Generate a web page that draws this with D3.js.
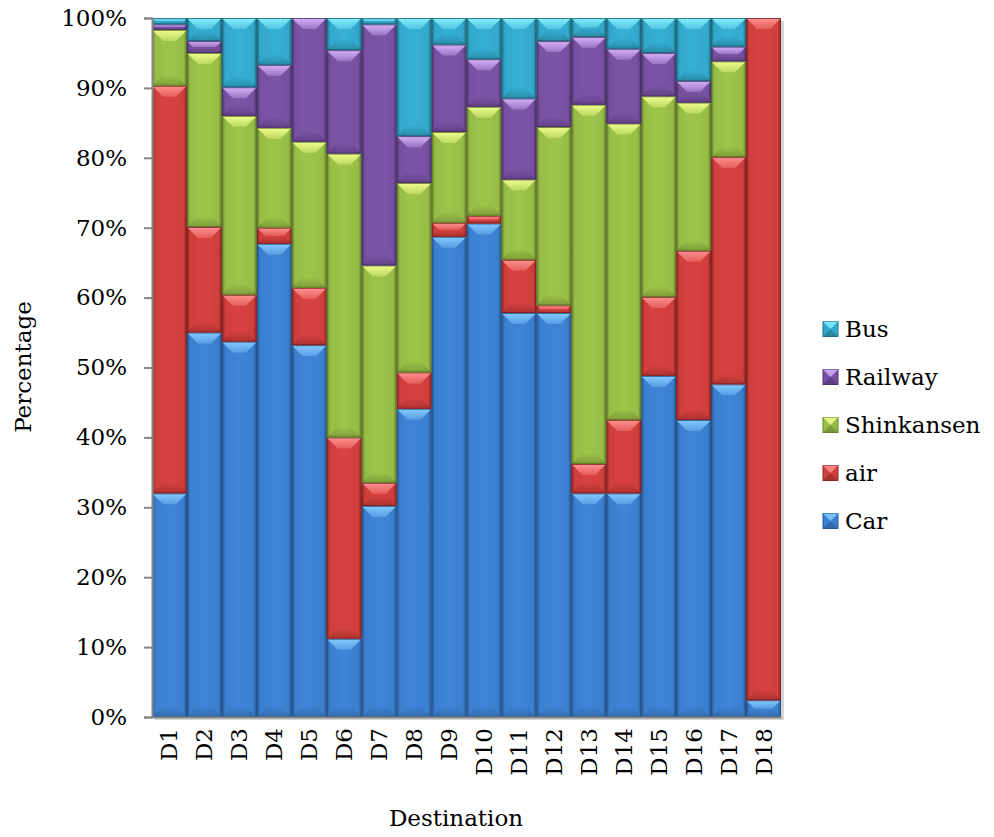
<!DOCTYPE html>
<html>
<head>
<meta charset="utf-8">
<script src="https://cdn.jsdelivr.net/npm/d3@7"></script>
<style>
  body { margin: 0; background: #fff; }
  text { font-family: "DejaVu Serif", serif; fill: #000; }
</style>
</head>
<body>
<svg id="chart" width="994" height="837"></svg>
<script>
// Modal share (%) per destination
const destinations = ["D1","D2","D3","D4","D5","D6","D7","D8","D9","D10","D11","D12","D13","D14","D15","D16","D17","D18"];
const car        = [32.0, 55.0, 53.7, 67.7, 53.2, 11.2, 30.2, 44.1, 68.7, 70.6, 57.8, 57.8, 32.0, 32.0, 48.8, 42.5, 47.6, 2.4];
const air        = [58.3, 15.1,  6.7,  2.3,  8.2, 28.8,  3.3,  5.2,  2.0,  1.1,  7.6,  1.1,  4.2, 10.5, 11.3, 24.2, 32.5, 97.6];
const shinkansen = [ 8.0, 24.9, 25.6, 14.3, 20.9, 40.6, 31.1, 27.1, 13.0, 15.6, 11.5, 25.5, 51.4, 42.4, 28.7, 21.2, 13.7, 0];
const railway    = [ 0.8,  1.7,  4.1,  9.0, 17.7, 14.8, 34.5,  6.7, 12.5,  6.8, 11.6, 12.3,  9.7, 10.7,  6.2,  3.1,  2.1, 0];
const bus        = [ 0.9,  3.3,  9.9,  6.7,  0.0,  4.6,  0.9, 16.9,  3.8,  5.9, 11.5,  3.3,  2.7,  4.4,  5.0,  9.0,  4.1, 0];
const seriesNames = ["Car", "air", "Shinkansen", "Railway", "Bus"];
const yTickValues = [0, 0.1, 0.2, 0.3, 0.4, 0.5, 0.6, 0.7, 0.8, 0.9, 1.0];

const palette = {
  Car:        { base: "#3b7fcf", light: "#86ccff", dark: "#265a97" },
  air:        { base: "#cf3f3d", light: "#ff9290", dark: "#8f2625" },
  Shinkansen: { base: "#97bd47", light: "#f2ff8e", dark: "#66822b" },
  Railway:    { base: "#7751a1", light: "#d6b2fa", dark: "#4f3470" },
  Bus:        { base: "#33a9cc", light: "#86f0ff", dark: "#1f7189" }
};

const rows = destinations.map((d, i) => ({
  dest: d, Car: car[i], air: air[i], Shinkansen: shinkansen[i], Railway: railway[i], Bus: bus[i]
}));

const svg = d3.select("#chart");
const plot = { left: 152, right: 781, top: 18, bottom: 717 };

const x = d3.scaleBand().domain(destinations).range([plot.left, plot.right]).padding(0);
const y = d3.scaleLinear().domain([0, 1]).range([plot.bottom, plot.top]);

const stacked = d3.stack().keys(seriesNames).offset(d3.stackOffsetExpand)(rows);

// Gradients: horizontal body shading, top highlight, bottom shade
const defs = svg.append("defs");
seriesNames.forEach(k => {
  const c = palette[k];
  const h = defs.append("linearGradient").attr("id", "body-" + k)
    .attr("x1", 0).attr("x2", 1).attr("y1", 0).attr("y2", 0);
  h.append("stop").attr("offset", "0%").attr("stop-color", c.dark);
  h.append("stop").attr("offset", "10%").attr("stop-color", c.base);
  h.append("stop").attr("offset", "50%").attr("stop-color", d3.color(c.base).brighter(0.12));
  h.append("stop").attr("offset", "90%").attr("stop-color", c.base);
  h.append("stop").attr("offset", "100%").attr("stop-color", c.dark);

  const t = defs.append("linearGradient").attr("id", "top-" + k)
    .attr("x1", 0).attr("x2", 0).attr("y1", 0).attr("y2", 1);
  t.append("stop").attr("offset", "0%").attr("stop-color", c.light);
  t.append("stop").attr("offset", "100%").attr("stop-color", c.light).attr("stop-opacity", 0.35);

  const b = defs.append("linearGradient").attr("id", "bot-" + k)
    .attr("x1", 0).attr("x2", 0).attr("y1", 0).attr("y2", 1);
  b.append("stop").attr("offset", "0%").attr("stop-color", c.dark).attr("stop-opacity", 0.0);
  b.append("stop").attr("offset", "100%").attr("stop-color", c.dark).attr("stop-opacity", 0.55);
});

// Drop shadow of the plot block
svg.append("rect")
  .attr("x", plot.left + 3).attr("y", plot.top + 3)
  .attr("width", plot.right - plot.left).attr("height", plot.bottom - plot.top)
  .attr("fill", "#d6d6d6");

const layers = svg.append("g").selectAll("g").data(stacked).join("g");

layers.each(function(layer) {
  const key = layer.key;
  const c = palette[key];
  const g = d3.select(this);
  layer.forEach(seg => {
    const x0 = x(seg.data.dest), x1 = x0 + x.bandwidth();
    const yt = y(seg[1]), yb = y(seg[0]);
    const h = yb - yt;
    if (h <= 0.05) return;
    const w = x1 - x0;
    const bv = Math.min(11, h / 2, w / 2);
    const s = g.append("g");
    s.append("rect").attr("x", x0).attr("y", yt).attr("width", w).attr("height", h)
      .attr("fill", `url(#body-${key})`);
    s.append("polygon")
      .attr("points", [[x0, yt], [x1, yt], [x1 - bv, yt + bv], [x0 + bv, yt + bv]].map(p => p.join(",")).join(" "))
      .attr("fill", `url(#top-${key})`);
    s.append("polygon")
      .attr("points", [[x0, yb], [x1, yb], [x1 - bv, yb - bv], [x0 + bv, yb - bv]].map(p => p.join(",")).join(" "))
      .attr("fill", `url(#bot-${key})`);
    s.append("rect").attr("x", x0 + 0.5).attr("y", yt + 0.5)
      .attr("width", Math.max(0, w - 1)).attr("height", Math.max(0, h - 1))
      .attr("fill", "none").attr("stroke", d3.color(c.dark).darker(0.4)).attr("stroke-width", 1)
      .attr("stroke-opacity", 0.8);
  });
});

// Y axis
const yAxis = d3.axisLeft(y).tickValues(yTickValues).tickFormat(d3.format(".0%")).tickSize(8).tickPadding(17);
const ya = svg.append("g").attr("transform", `translate(${plot.left},0)`).call(yAxis);
ya.select(".domain").attr("stroke", "#868686").attr("stroke-width", 2);
ya.selectAll(".tick line").attr("stroke", "#868686").attr("stroke-width", 2);
ya.selectAll(".tick text").style("font-family", "DejaVu Serif, serif").style("font-size", "23px").attr("fill", "#000");

// X axis
const xAxis = d3.axisBottom(x).tickSize(0).tickPadding(0);
const xa = svg.append("g").attr("transform", `translate(0,${plot.bottom})`).call(xAxis);
xa.select(".domain").attr("stroke", "#868686").attr("stroke-width", 2);
xa.selectAll(".tick text")
  .style("font-family", "DejaVu Serif, serif").style("font-size", "23px").attr("fill", "#000")
  .attr("text-anchor", "end")
  .attr("dy", null).attr("y", null)
  .attr("transform", "translate(8,11) rotate(-90)");

// Axis titles
svg.append("text").attr("transform", "translate(31,367) rotate(-90)")
  .attr("text-anchor", "middle").style("font-size", "23px").text("Percentage");
svg.append("text").attr("x", 456).attr("y", 826)
  .attr("text-anchor", "middle").style("font-size", "23px").text("Destination");

// Legend (top to bottom: Bus ... Car)
const legendKeys = seriesNames.slice().reverse();
const legendY = d3.scalePoint().domain(legendKeys).range([329, 521]);
const lg = svg.append("g").selectAll("g").data(legendKeys).join("g")
  .attr("transform", k => `translate(823,${legendY(k)})`);
lg.each(function(k) {
  const g = d3.select(this);
  const c = palette[k];
  const s = 15;
  g.append("rect").attr("x", 0).attr("y", -s / 2).attr("width", s).attr("height", s).attr("fill", c.base)
    .attr("stroke", c.dark).attr("stroke-width", 1);
  g.append("polygon").attr("points", `0,${-s/2} ${s},${-s/2} ${s/2},0`).attr("fill", c.light).attr("opacity", 0.85);
  g.append("polygon").attr("points", `0,${s/2} ${s},${s/2} ${s/2},0`).attr("fill", c.dark).attr("opacity", 0.6);
});
lg.append("text").attr("x", 22).attr("dy", "0.36em").style("font-size", "23px").text(k => k);
</script>
</body>
</html>
